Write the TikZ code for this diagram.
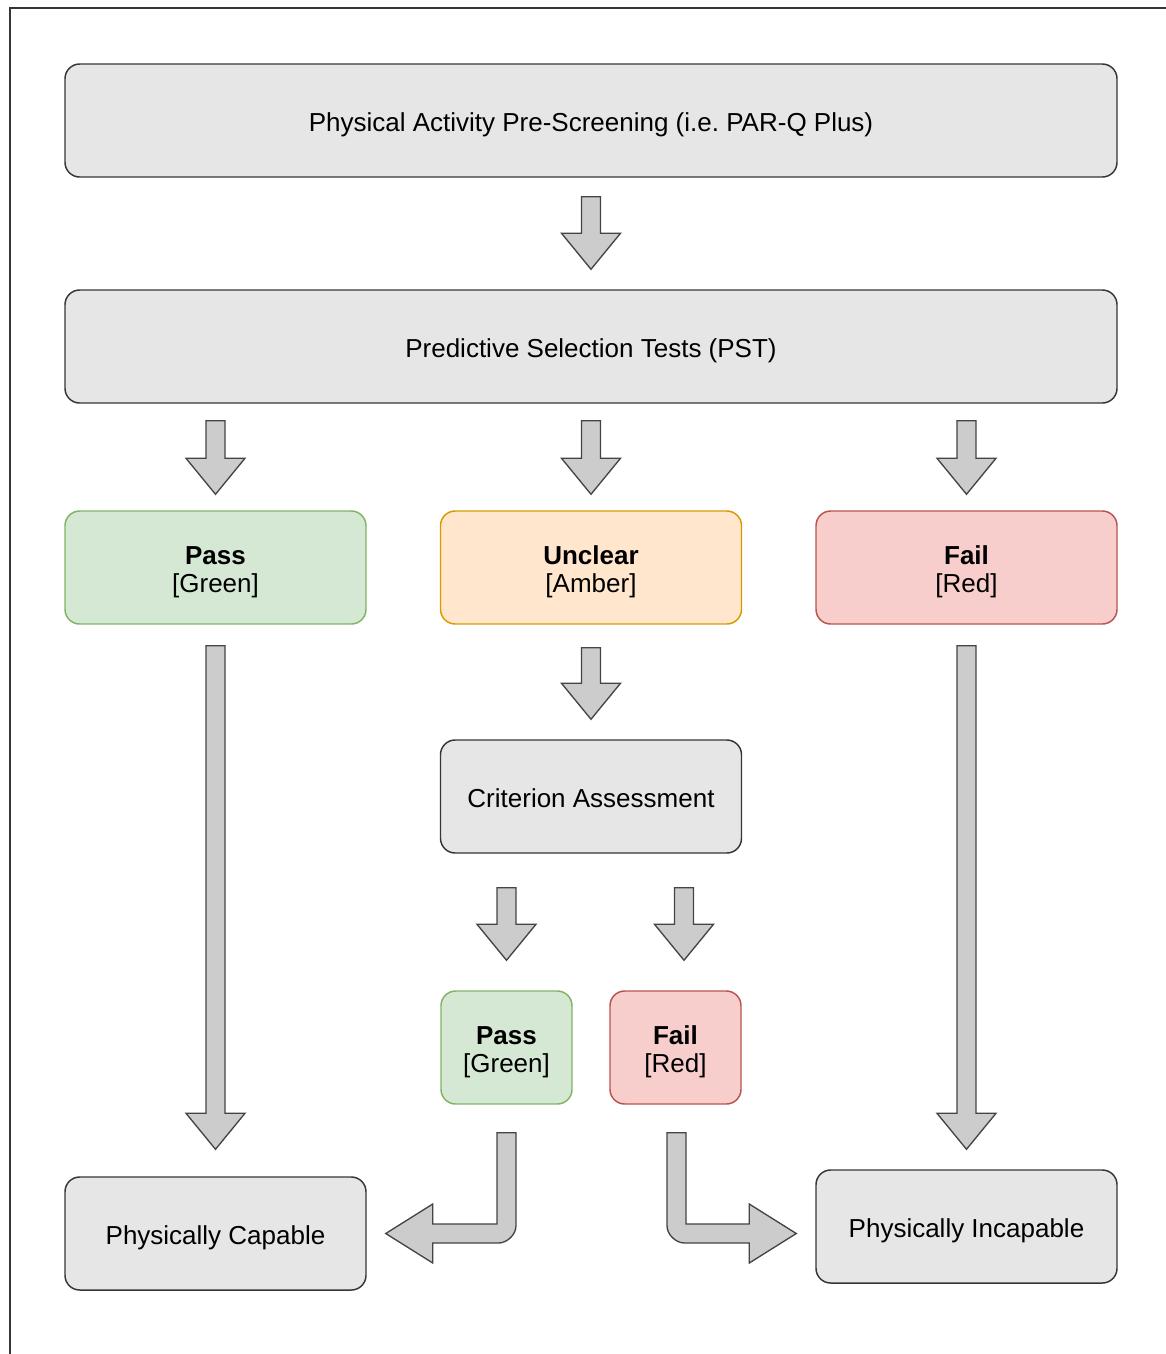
\documentclass[tikz,border=0pt]{standalone}
\usepackage{fontspec}
\setmainfont{Liberation Sans}
\usepackage{xcolor}
\definecolor{psgray}{HTML}{E6E6E6}
\definecolor{psline}{HTML}{363636}
\definecolor{psgreen}{HTML}{D5E8D4}
\definecolor{psgreenline}{HTML}{82B366}
\definecolor{psamber}{HTML}{FFE6CC}
\definecolor{psamberline}{HTML}{D79B00}
\definecolor{psred}{HTML}{F8CECC}
\definecolor{psredline}{HTML}{B85450}
\definecolor{psarrow}{HTML}{CCCCCC}
\definecolor{psarrowline}{HTML}{444444}
\usepackage{tikz}
\usetikzlibrary{calc}

% block arrow sizes
\def\shaftw{7.125pt}
\def\headw{22.125pt}
\def\headl{27pt}
\def\bheadl{35.25pt}
\def\bendr{13pt}

% straight block arrow, #1 top of shaft, #2 tip (x taken from #1)
\newcommand\arrowdown[2]{%
  \draw[blockarrow] let \p1=(#1), \p2=(#2) in
    ({\x1-\shaftw},\y1) -- ({\x1+\shaftw},\y1) -- ({\x1+\shaftw},{\y2+\headl})
    -- ({\x1+\headw},{\y2+\headl}) -- (\x1,\y2) -- ({\x1-\headw},{\y2+\headl})
    -- ({\x1-\shaftw},{\y2+\headl}) -- cycle;}

% bent block arrow, #1 = -1 left / 1 right, #2 top of shaft, #3 tip
\newcommand\arrowbend[3]{%
  \draw[blockarrow] let \p1=(#2), \p2=(#3) in
    ({\x1-(#1)*\shaftw},\y1) -- ({\x1-(#1)*\shaftw},{\y2-\shaftw+\bendr})
    .. controls ({\x1-(#1)*\shaftw},{\y2-\shaftw+0.45*\bendr})
       and ({\x1-(#1)*\shaftw+(#1)*0.55*\bendr},{\y2-\shaftw})
    .. ({\x1-(#1)*\shaftw+(#1)*\bendr},{\y2-\shaftw})
    -- ({\x2-(#1)*\bheadl},{\y2-\shaftw}) -- ({\x2-(#1)*\bheadl},{\y2-\headw})
    -- (\x2,\y2) -- ({\x2-(#1)*\bheadl},{\y2+\headw})
    -- ({\x2-(#1)*\bheadl},{\y2+\shaftw}) -- ({\x1+(#1)*\shaftw},{\y2+\shaftw})
    -- ({\x1+(#1)*\shaftw},\y1) -- cycle;}

\newcommand\boxstrut{\rule[-4.2pt]{0pt}{24.2pt}}

\begin{document}
\begin{tikzpicture}[x=0.75pt,y=-0.75pt,
    box/.style={draw=psline, fill=psgray, line width=1.1pt, rounded corners=11pt,
      align=center, inner sep=0pt, minimum height=84.75pt,
      font=\fontsize{19.5}{21}\selectfont},
    widebox/.style={box, minimum width=789pt},
    midbox/.style={box, minimum width=225.75pt},
    smallbox/.style={box, minimum width=98.25pt},
    passbox/.style={fill=psgreen, draw=psgreenline},
    amberbox/.style={fill=psamber, draw=psamberline},
    failbox/.style={fill=psred, draw=psredline},
    blockarrow/.style={draw=psarrowline, fill=psarrow, line width=1pt, line join=miter}]
  \useasboundingbox (0,0) rectangle (1166,1354);
  \begin{scope}
    \clip (0,0) rectangle (1166,1354);
    \draw[psline, line width=1.5pt] (9.5,7.5) rectangle (1180,1370);
  \end{scope}

  % boxes
  \node[widebox] (prescreen) at (591,120.5) {\boxstrut Physical Activity Pre-Screening (i.e.\ PAR-Q Plus)};
  \node[widebox] (pst) at (591,346.5) {\boxstrut Predictive Selection Tests (PST)};
  \node[midbox, passbox] (pass) at (215.5,567.5) {\boxstrut\textbf{Pass}\\{[Green]}};
  \node[midbox, amberbox] (unclear) at (591,567.5) {\boxstrut\textbf{Unclear}\\{[Amber]}};
  \node[midbox, failbox] (fail) at (966.5,567.5) {\boxstrut\textbf{Fail}\\{[Red]}};
  \node[midbox] (criterion) at (591,796.5) {\boxstrut Criterion Assessment};
  \node[smallbox, passbox] (pass2) at (506.5,1047.5) {\boxstrut\textbf{Pass}\\{[Green]}};
  \node[smallbox, failbox] (fail2) at (675.5,1047.5) {\boxstrut\textbf{Fail}\\{[Red]}};
  \node[midbox] (capable) at (215.5,1233.5) {\boxstrut Physically Capable};
  \node[midbox] (incapable) at (966.5,1226.5) {\boxstrut Physically Incapable};

  % arrows
  \arrowdown{$(prescreen.south)+(0,19)$}{$(pst.north)+(0,-20)$}
  \foreach \b in {pass,unclear,fail}
    \arrowdown{$(\b.north |- pst.south)+(0,17)$}{$(\b.north)+(0,-16)$};
  \arrowdown{$(pass.south)+(0,21)$}{$(capable.north)+(0,-27)$}
  \arrowdown{$(fail.south)+(0,21)$}{$(incapable.north)+(0,-20)$}
  \arrowdown{$(unclear.south)+(0,23)$}{$(criterion.north)+(0,-20)$}
  \arrowdown{$(pass2.north |- criterion.south)+(0,34)$}{$(pass2.north)+(0,-30)$}
  \arrowdown{$(fail2.north |- criterion.south)+(8.5,34)$}{$(fail2.north)+(8.5,-30)$}
  \arrowbend{-1}{$(pass2.south)+(0,28)$}{$(capable.east)+(19,0)$}
  \arrowbend{1}{$(fail2.south)+(1,28)$}{$(incapable.west |- capable.east)+(-19,0)$}
\end{tikzpicture}
\end{document}
